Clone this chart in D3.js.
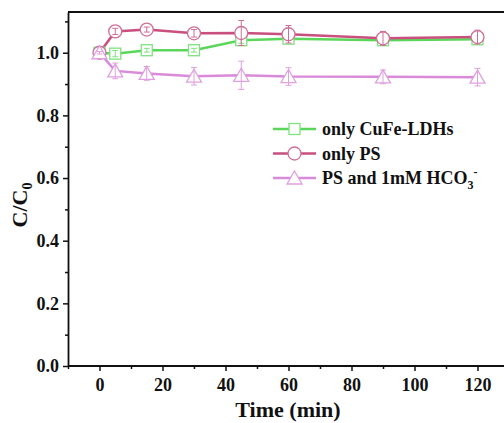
<!DOCTYPE html>
<html><head><meta charset="utf-8">
<script src="https://cdn.jsdelivr.net/npm/d3@7"></script>
<style>
body{margin:0;background:#fff;}
svg text{font-family:"Liberation Serif","Times New Roman",serif;font-weight:bold;fill:#111;}
</style></head>
<body><svg id="c" width="504" height="423"></svg>
<script>
const times = [0,5,15,30,45,60,90,120];
const seriesNames = ["only CuFe-LDHs","only PS","PS and 1mM HCO3-"];
const ldhVals = [1.0,0.997,1.008,1.008,1.040,1.045,1.040,1.043];
const ldhErr  = [0.003,0.010,0.006,0.006,0.010,0.005,0.008,0.008];
const psVals  = [1.0,1.068,1.074,1.062,1.063,1.059,1.046,1.050];
const psErr   = [0.004,0.010,0.008,0.012,0.040,0.028,0.022,0.022];
const hco3Vals= [1.0,0.942,0.934,0.925,0.928,0.924,0.923,0.922];
const hco3Err = [0.004,0.025,0.022,0.028,0.045,0.028,0.022,0.028];
const xTicks = [0,20,40,60,80,100,120];
const yTicks = [0.0,0.2,0.4,0.6,0.8,1.0];

const svg = d3.select("#c");
const L=68, T=12, B=366;
const x = d3.scaleLinear().domain([-10,130]).range([L, L+441]);
const y = d3.scaleLinear().domain([0,1.13]).range([B, T]);

const series = [
  {name:seriesNames[0], vals:ldhVals, err:ldhErr, line:"#5ad65a", mk:"#7fe27f", shape:"square"},
  {name:seriesNames[1], vals:psVals, err:psErr, line:"#c94f7f", mk:"#cf6e98", shape:"circle"},
  {name:seriesNames[2], vals:hco3Vals, err:hco3Err, line:"#d98ad9", mk:"#dfa0df", shape:"triangle"}
];

svg.append("line").attr("x1",L).attr("x2",504).attr("y1",T).attr("y2",T).attr("stroke","#111").attr("stroke-width",1.8);

function marker(g, shape, cx, cy, color){
  if(shape==="square") g.append("rect").attr("x",cx-5.5).attr("y",cy-5.5).attr("width",11).attr("height",11)
    .attr("fill","#fff").attr("stroke",color).attr("stroke-width",1.3);
  else if(shape==="circle") g.append("circle").attr("cx",cx).attr("cy",cy).attr("r",6.5)
    .attr("fill","#fff").attr("stroke",color).attr("stroke-width",1.3);
  else g.append("path").attr("d",`M${cx},${cy-7}L${cx+7.5},${cy+6}L${cx-7.5},${cy+6}Z`)
    .attr("fill","#fff").attr("stroke",color).attr("stroke-width",1.3);
}

const lineGen = d3.line().x(d=>x(d[0])).y(d=>y(d[1]));
series.forEach(s=>{
  const pts = times.map((t,i)=>[t,s.vals[i]]);
  svg.append("path").attr("d",lineGen(pts)).attr("fill","none").attr("stroke",s.line).attr("stroke-width",2.5);
});
series.forEach(s=>{
  const g = svg.append("g");
  times.forEach((t,i)=>{
    const cx=x(t), cy=y(s.vals[i]);
    marker(g, s.shape, cx, cy, s.mk);
    const y1=y(s.vals[i]+s.err[i]), y2=y(s.vals[i]-s.err[i]);
    g.append("line").attr("x1",cx).attr("x2",cx).attr("y1",y1).attr("y2",y2).attr("stroke",s.mk).attr("stroke-width",1);
    [y1,y2].forEach(yy=>g.append("line").attr("x1",cx-3).attr("x2",cx+3).attr("y1",yy).attr("y2",yy).attr("stroke",s.mk).attr("stroke-width",1));
  });
});

const xAx = svg.append("g").attr("transform",`translate(0,${B})`)
  .call(d3.axisBottom(x).tickValues(xTicks).tickSize(5).tickSizeOuter(0).tickFormat(d3.format("d")));
svg.append("g").attr("transform",`translate(0,${B})`)
  .call(d3.axisBottom(x).tickValues([-10,10,30,50,70,90,110,130]).tickSize(3).tickSizeOuter(0).tickFormat(""))
  .select(".domain").remove();
const yAx = svg.append("g").attr("transform",`translate(${L},0)`)
  .call(d3.axisLeft(y).tickValues(yTicks).tickSize(5).tickSizeOuter(0).tickFormat(d3.format(".1f")));
svg.append("g").attr("transform",`translate(${L},0)`)
  .call(d3.axisLeft(y).tickValues([0.1,0.3,0.5,0.7,0.9,1.1]).tickSize(3).tickSizeOuter(0).tickFormat(""))
  .select(".domain").remove();
svg.selectAll(".domain").attr("stroke","#111").attr("stroke-width",1.8);
svg.selectAll(".tick line").attr("stroke","#111").attr("stroke-width",1.5);
xAx.selectAll("text").attr("font-size",18).attr("dy","0.95em");
yAx.selectAll("text").attr("font-size",18).attr("dx","-0.05em").attr("dy","0.33em");
svg.selectAll(".tick text").style("font-family","'Liberation Serif',serif").style("font-weight","bold").attr("fill","#111");
svg.select(".domain").attr("d",`M${L},0H504`);

svg.append("text").attr("x",288).attr("y",417).attr("text-anchor","middle").attr("font-size",22).text("Time (min)");
const yl = svg.append("text").attr("transform","translate(27,205) rotate(-90)").attr("text-anchor","middle").attr("font-size",22);
yl.append("tspan").text("C/C");
yl.append("tspan").attr("font-size",14).attr("dy",5).text("0");

const lg = svg.append("g");
series.forEach((s,i)=>{
  const ly = 129 + i*24.5;
  lg.append("line").attr("x1",273).attr("x2",316).attr("y1",ly).attr("y2",ly).attr("stroke",s.line).attr("stroke-width",2.5);
  marker(lg, s.shape, 294.5, ly, s.mk);
  const t = lg.append("text").attr("x",322).attr("y",ly+6).attr("font-size",18);
  if(i<2) t.text(s.name);
  else {
    t.append("tspan").text("PS and 1mM HCO");
    t.append("tspan").attr("font-size",12).attr("dy",5).text("3");
    t.append("tspan").attr("font-size",12).attr("dy",-13).text("-");
  }
});
</script></body></html>
